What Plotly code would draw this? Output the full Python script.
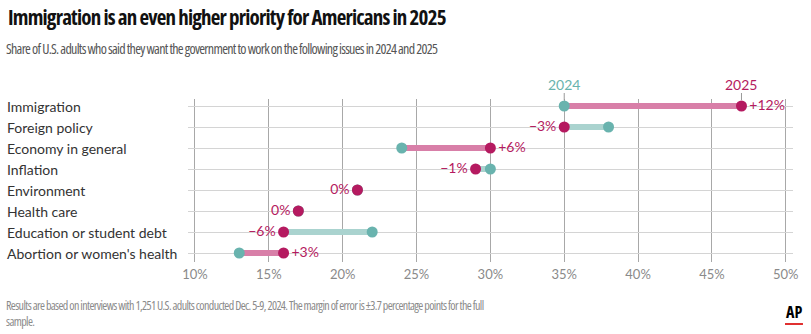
import plotly.graph_objects as go

categories = ["Immigration", "Foreign policy", "Economy in general", "Inflation",
              "Environment", "Health care", "Education or student debt",
              "Abortion or women's health"]
v2024 = [35, 38, 24, 30, 21, 17, 22, 13]
v2025 = [47, 35, 30, 29, 21, 17, 16, 16]
tick_vals = [10, 15, 20, 25, 30, 35, 40, 45, 50]
tick_text = ["10%", "15%", "20%", "25%", "30%", "35%", "40%", "45%", "50%"]

C24 = "#69b3ae"
C25 = "#b51a60"
UP_LINE = "#d87fa8"
DOWN_LINE = "#aad3cf"

W, H = 811, 334
L, R, T, B = 188, 16, 99, 72
pw = W - L - R
ph = H - T - B

fig = go.Figure()
ys = list(range(len(categories)))

for i, (a, b) in enumerate(zip(v2024, v2025)):
    if a != b:
        fig.add_trace(go.Scatter(x=[a, b], y=[i, i], mode="lines",
                                 line=dict(color=UP_LINE if b > a else DOWN_LINE, width=6),
                                 hoverinfo="skip", showlegend=False))

diffs = [b - a for a, b in zip(v2024, v2025)]
labels = [("+%d%%" % d) if d > 0 else ("\u2212%d%%" % -d if d < 0 else "0%") for d in diffs]
positions = ["middle right" if d > 0 else "middle left" for d in diffs]

fig.add_trace(go.Scatter(x=v2024, y=ys, mode="markers",
                         marker=dict(color=C24, size=11), showlegend=False))
fig.add_trace(go.Scatter(x=v2025, y=ys, mode="markers+text",
                         marker=dict(color=C25, size=11), text=labels,
                         textposition=positions,
                         textfont=dict(family="Lato", size=14, color=C25),
                         showlegend=False))

x0 = 9.53
x1 = x0 + pw / 14.82
y_top = -7 / 21
y_bot = y_top + ph / 21

fig.update_xaxes(range=[x0, x1], tickvals=tick_vals, ticktext=tick_text,
                 showgrid=True, gridcolor="#a8a8a8", gridwidth=1, zeroline=False,
                 showline=False, ticks="", ticklabelstandoff=3,
                 tickfont=dict(family="Lato", size=13, color="#8a8a8a"),
                 fixedrange=True)
fig.update_yaxes(range=[y_bot, y_top], tickvals=ys, ticktext=[""] * len(ys),
                 showgrid=True, gridcolor="#d4d4d4", gridwidth=1, zeroline=False,
                 showline=False, ticks="", fixedrange=True)

def px_x(px):
    return (px - L) / pw

def px_y(py):
    return 1 - (py - T) / ph

COND = "Open Sans"
def cond(t, ls):
    return '<span style="font-stretch:75%%;letter-spacing:%spx">%s</span>' % (ls, t)

ann = []
for i, c in enumerate(categories):
    ann.append(dict(text=c, xref="paper", yref="y", x=px_x(4), y=i, xanchor="left",
                    yanchor="middle", showarrow=False,
                    font=dict(family="Lato", size=14, color="#333333")))

ann.append(dict(text="2024", xref="x", yref="paper", x=v2024[0], y=px_y(84),
                xanchor="center", yanchor="middle", showarrow=False,
                font=dict(family="Lato", size=14, color=C24)))
ann.append(dict(text="2025", xref="x", yref="paper", x=v2025[0], y=px_y(84),
                xanchor="center", yanchor="middle", showarrow=False,
                font=dict(family="Lato", size=14, color=C25)))

ann.append(dict(text="<b>" + cond("Immigration is an even higher priority for Americans in 2025", -0.8) + "</b>",
                xref="paper", yref="paper", x=px_x(5), y=px_y(17), xanchor="left",
                yanchor="middle", showarrow=False,
                font=dict(family=COND, size=21, color="#111111")))
ann.append(dict(text=cond("Share of U.S. adults who said they want the government to work on the following issues in 2024 and 2025", -0.72),
                xref="paper", yref="paper", x=px_x(3), y=px_y(48), xanchor="left",
                yanchor="middle", showarrow=False,
                font=dict(family=COND, size=14, color="#555555")))
ann.append(dict(text=cond("Results are based on interviews with 1,251 U.S. adults conducted Dec. 5-9, 2024. The margin of error is \u00b13.7 percentage points for the full", -0.62)
                + "<br>" + cond("sample.", -0.62),
                xref="paper", yref="paper", x=px_x(3), y=px_y(313), xanchor="left",
                yanchor="middle", align="left", showarrow=False,
                font=dict(family=COND, size=12, color="#8a8a8a")))
ann.append(dict(text="<b>" + cond("AP", 0) + "</b>", xref="paper", yref="paper", x=px_x(796), y=px_y(312),
                xanchor="center", yanchor="middle", showarrow=False,
                font=dict(family=COND, size=16, color="#000000")))

shapes = [
    dict(type="line", xref="x", yref="paper", x0=v2024[0], x1=v2024[0], y0=px_y(93), y1=px_y(100),
         line=dict(color="#999999", width=1)),
    dict(type="line", xref="x", yref="paper", x0=v2025[0], x1=v2025[0], y0=px_y(93), y1=px_y(100),
         line=dict(color="#999999", width=1)),
    dict(type="line", xref="paper", yref="paper", x0=px_x(787), x1=px_x(805), y0=px_y(324), y1=px_y(324),
         line=dict(color="#e03030", width=2)),
]

fig.update_layout(width=W, height=H, margin=dict(l=L, r=R, t=T, b=B),
                  plot_bgcolor="white", paper_bgcolor="white",
                  annotations=ann, shapes=shapes, showlegend=False)

fig.write_html("out.html", config={"displayModeBar": False})
